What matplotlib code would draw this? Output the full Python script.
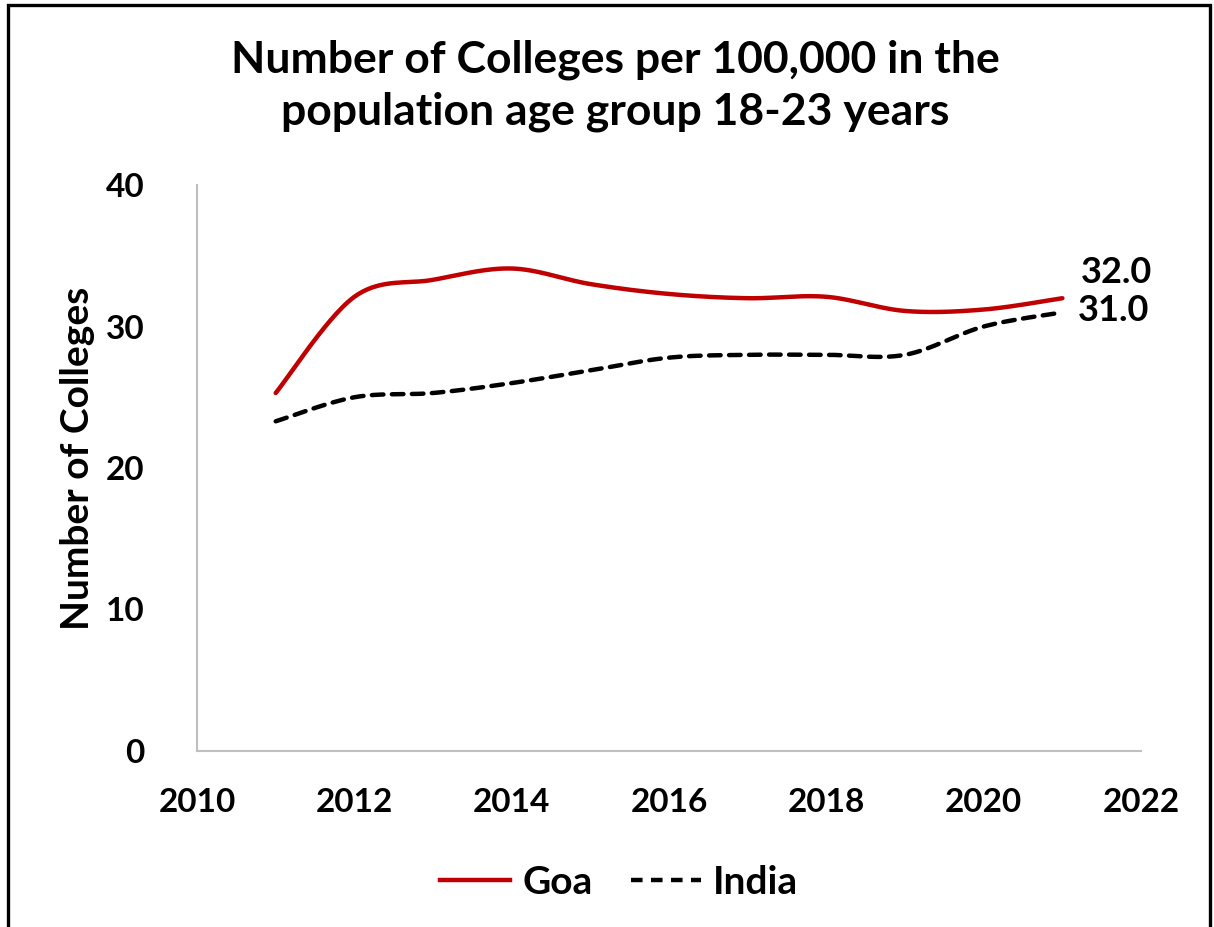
import numpy as np
import matplotlib
matplotlib.use("Agg")
import matplotlib.pyplot as plt
from matplotlib.patches import Rectangle
from matplotlib.lines import Line2D

plt.rcParams['font.family'] = ['Lato', 'DejaVu Sans']
plt.rcParams['font.weight'] = 'bold'

# Дані
years = [2011, 2012, 2013, 2014, 2015, 2016, 2017, 2018, 2019, 2020, 2021]
goa = [25.3, 32.1, 33.3, 34.1, 33.0, 32.3, 32.0, 32.1, 31.1, 31.2, 32.0]
india = [23.3, 25.0, 25.3, 26.0, 26.9, 27.8, 28.0, 28.0, 28.0, 30.0, 31.0]
end_labels = ["32.0", "31.0"]


# Згладжена лінія як у Excel (Безьє через точки)
def smooth(x, y, n=30):
    x = np.asarray(x, float)
    y = np.asarray(y, float)
    px = np.concatenate([[x[0]], x, [x[-1]]])
    py = np.concatenate([[y[0]], y, [y[-1]]])
    xs, ys = [], []
    t = np.linspace(0, 1, n)
    for i in range(1, len(px) - 2):
        p0 = np.array([px[i], py[i]])
        p3 = np.array([px[i + 1], py[i + 1]])
        p1 = p0 + (np.array([px[i + 1], py[i + 1]]) - np.array([px[i - 1], py[i - 1]])) / 6
        p2 = p3 - (np.array([px[i + 2], py[i + 2]]) - np.array([px[i], py[i]])) / 6
        b = ((1 - t) ** 3)[:, None] * p0 + (3 * (1 - t) ** 2 * t)[:, None] * p1 \
            + (3 * (1 - t) * t ** 2)[:, None] * p2 + (t ** 3)[:, None] * p3
        xs.extend(b[:, 0])
        ys.extend(b[:, 1])
    return np.array(xs), np.array(ys)


fig = plt.figure(figsize=(12.14, 9.27), dpi=100)
ax = fig.add_axes([0.1623, 0.1899, 0.7776, 0.6105])

gx, gy = smooth(years, goa)
ix, iy = smooth(years, india)
ax.plot(gx, gy, color='#C00000', linewidth=3.2, solid_capstyle='round')
ax.plot(ix, iy, color='black', linewidth=3.2, linestyle=(0, (2.6, 1.9)), dash_capstyle='round')

ax.text(years[-1] + 0.23, goa[-1] + 1.8, end_labels[0], fontsize=26, fontweight='bold', va='center', ha='left')
ax.text(years[-1] + 0.2, india[-1] + 0.1, end_labels[1], fontsize=26, fontweight='bold', va='center', ha='left')

ax.set_xlim(2010, 2022)
ax.set_ylim(0, 40)
ax.set_xticks(range(2010, 2023, 2))
ax.set_yticks(range(0, 41, 10))
ax.tick_params(length=0, labelsize=24, pad=27)
ax.tick_params(axis='y', pad=38)
for lab in ax.get_xticklabels() + ax.get_yticklabels():
    lab.set_fontweight('bold')

for s in ['top', 'right']:
    ax.spines[s].set_visible(False)
for s in ['left', 'bottom']:
    ax.spines[s].set_color('#BFBFBF')
    ax.spines[s].set_linewidth(1.5)

fig.text(0.064, 0.505, "Number of Colleges", rotation=90, fontsize=28,
         fontweight='bold', ha='center', va='center')

fig.text(0.507, 0.907, "Number of Colleges per 100,000 in the\npopulation age group 18-23 years",
         fontsize=32, fontweight='bold', ha='center', va='center', linespacing=1.35)

handles = [Line2D([], [], color='#C00000', linewidth=3.2),
           Line2D([], [], color='black', linewidth=3.2, linestyle=(0, (2.6, 1.9)))]
fig.legend(handles, ["Goa", "India"], loc='center', bbox_to_anchor=(0.51, 0.048), ncol=2,
           frameon=False, fontsize=28, handlelength=1.8, handletextpad=0.3, columnspacing=1.0)

fig.patches.append(Rectangle((8 / 1214, -0.05), 1202 / 1214, 0.05 + 922 / 927,
                             transform=fig.transFigure, fill=False, edgecolor='black', linewidth=2.4))

fig.savefig("out.png", dpi=100)
